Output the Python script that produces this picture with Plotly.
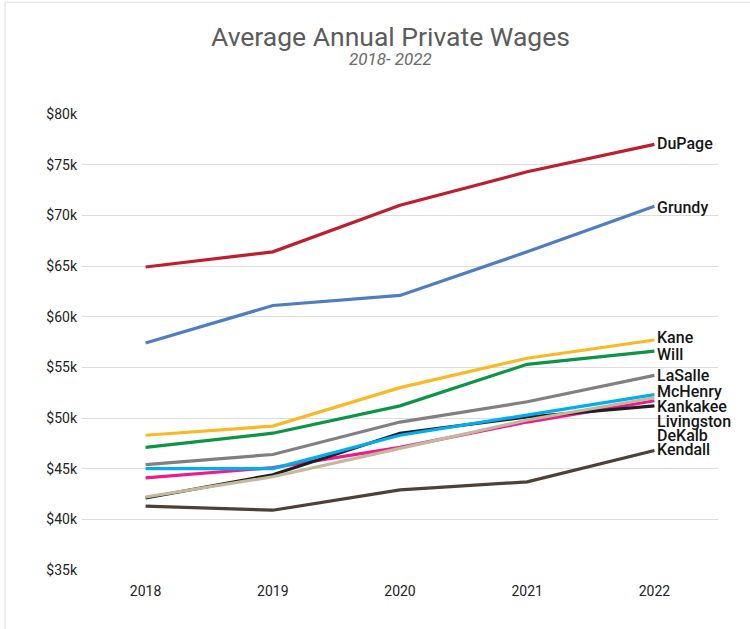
import plotly.graph_objects as go

years = ["2018", "2019", "2020", "2021", "2022"]

dupage = [64.9, 66.4, 71.0, 74.3, 77.0]
grundy = [57.4, 61.1, 62.1, 66.4, 70.9]
kane = [48.3, 49.2, 53.0, 55.9, 57.7]
will = [47.1, 48.5, 51.2, 55.3, 56.6]
lasalle = [45.4, 46.4, 49.6, 51.6, 54.2]
mchenry = [45.0, 45.0, 48.3, 50.3, 52.3]
kankakee = [42.1, 44.4, 48.5, 50.1, 51.2]
dekalb = [44.1, 45.1, 47.1, 49.6, 51.7]
livingston = [42.2, 44.2, 47.0, 49.8, 52.0]
kendall = [41.3, 40.9, 42.9, 43.7, 46.8]

y_ticks = [35, 40, 45, 50, 55, 60, 65, 70, 75, 80]
y_tick_labels = ["$35k", "$40k", "$45k", "$50k", "$55k", "$60k", "$65k", "$70k", "$75k", "$80k"]

series = [
    ("Kendall", kendall, "#4D4038"),
    ("Will", will, "#0E9447"),
    ("Kane", kane, "#FBB825"),
    ("LaSalle", lasalle, "#808083"),
    ("DeKalb", dekalb, "#EC1C8C"),
    ("Kankakee", kankakee, "#231F20"),
    ("McHenry", mchenry, "#00AEEF"),
    ("Livingston", livingston, "#C5B79C"),
    ("Grundy", grundy, "#4F7DC2"),
    ("DuPage", dupage, "#BE1E2D"),
]

# label vertical placement (de-overlapped), in axis units
label_y = {
    "DuPage": 77.1, "Grundy": 70.8, "Kane": 57.9, "Will": 56.3,
    "LaSalle": 54.2, "McHenry": 52.6, "Kankakee": 51.1,
    "Livingston": 49.7, "DeKalb": 48.3, "Kendall": 46.9,
}

fig = go.Figure()
for name, vals, color in series:
    fig.add_trace(go.Scatter(
        x=years, y=vals, mode="lines", name=name,
        line=dict(color=color, width=3.2),
        showlegend=False,
    ))

annotations = [
    dict(text="Average Annual Private Wages", xref="paper", yref="paper",
         x=0.485, y=1.17, showarrow=False, xanchor="center", yanchor="middle",
         font=dict(family="Roboto", size=26.5, color="#5c5c5c", weight=400)),
    dict(text="<i>2018- 2022</i>", xref="paper", yref="paper",
         x=0.485, y=1.12, showarrow=False, xanchor="center", yanchor="middle",
         font=dict(family="Roboto", size=17, color="#6a6a6a", weight=400)),
]
last_idx = len(years) - 1
for name, vals, color in series:
    annotations.append(dict(
        x=last_idx, y=label_y[name], xref="x", yref="y", text=name,
        showarrow=False, xanchor="left", yanchor="middle", xshift=1,
        font=dict(family="Roboto", size=16, color="#161616", weight=500),
    ))

fig.update_layout(
    width=750, height=629,
    margin=dict(l=82, r=32, t=114, b=59),
    paper_bgcolor="white", plot_bgcolor="white",
    font=dict(family="Roboto", color="#222222"),
    xaxis=dict(
        type="category", range=[-0.5, 4.5], showgrid=False, showline=False,
        zeroline=False, tickfont=dict(size=14, color="#222222"), ticks="",
        ticklabelstandoff=11,
    ),
    yaxis=dict(
        range=[35, 80], tickvals=y_ticks, ticktext=y_tick_labels,
        showgrid=True, gridcolor="#DDDDDD", gridwidth=1, zeroline=False,
        showline=False, tickfont=dict(size=14, color="#222222"), ticks="",
        ticklabelstandoff=4,
    ),
    shapes=[
        dict(type="line", xref="paper", yref="paper", x0=-0.121, x1=1.1,
             y0=1.245, y1=1.245, line=dict(color="#DDDDDD", width=1)),
        dict(type="line", xref="paper", yref="paper", x0=-0.121, x1=-0.121,
             y0=-0.2, y1=1.245, line=dict(color="#DDDDDD", width=1)),
    ],
    annotations=annotations,
)

fig.write_html("out.html", config={"displayModeBar": False},
               post_script="document.body.style.margin='0';")
